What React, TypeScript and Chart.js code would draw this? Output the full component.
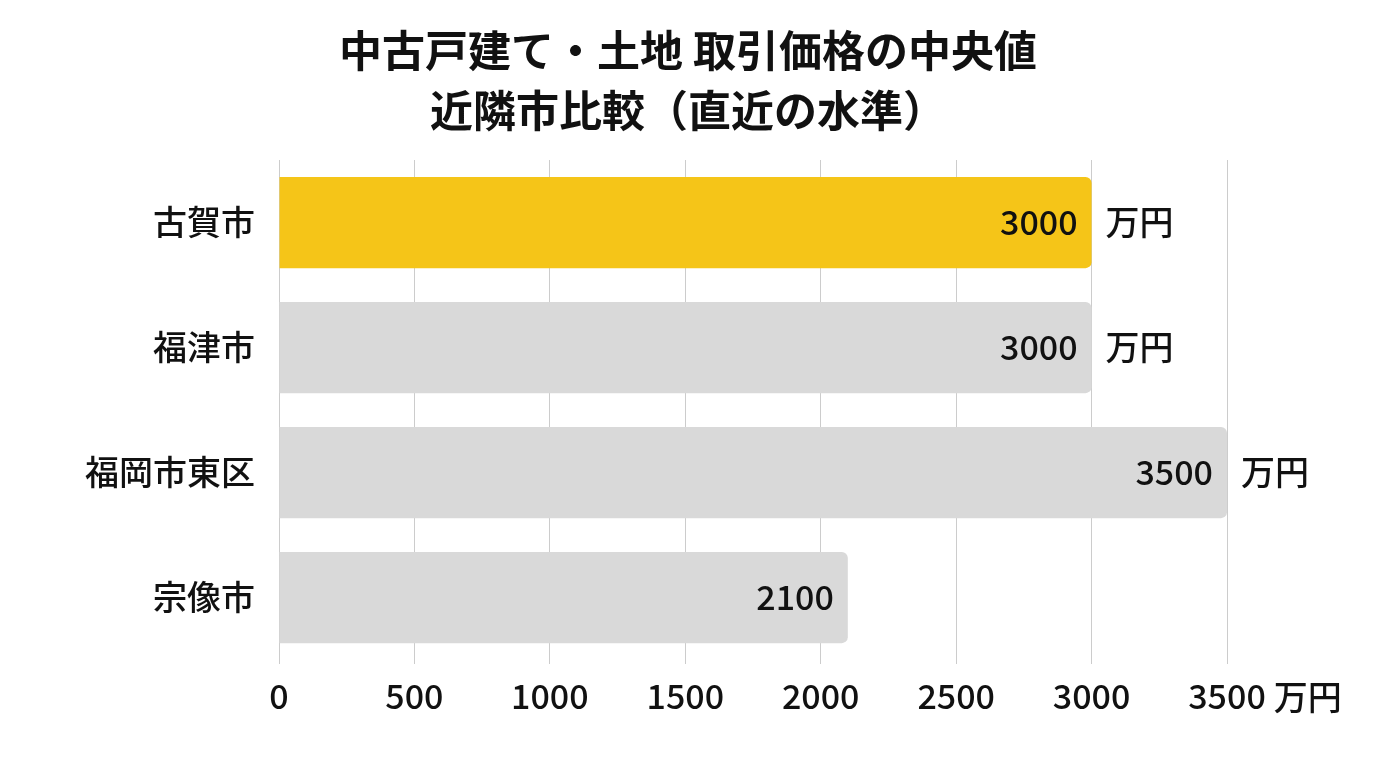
import React, { useEffect, useRef } from "react";
import { Chart, registerables } from "chart.js";

Chart.register(...registerables);

const categories = ["古賀市", "福津市", "福岡市東区", "宗像市"];
const values = [3000, 3000, 3500, 2100];
const unitLabels = ["万円", "万円", "万円", ""];
const barColors = ["#F5C518", "#D9D9D9", "#D9D9D9", "#D9D9D9"];
const xTicks = [0, 500, 1000, 1500, 2000, 2500, 3000, 3500];
const axisUnit = "万円";
const titleLines = ["中古戸建て・土地 取引価格の中央値", "近隣市比較（直近の水準）"];

const FONT = '"Noto Sans CJK JP", "Noto Sans", sans-serif';
const LABEL_FONT = `500 34px ${FONT}`;

const labelPlugin = {
  id: "valueLabels",
  afterDatasetsDraw(chart: any) {
    const ctx = chart.ctx;
    const meta = chart.getDatasetMeta(0);
    ctx.save();
    ctx.font = LABEL_FONT;
    ctx.fillStyle = "#111111";
    ctx.textBaseline = "middle";
    meta.data.forEach((bar: any, i: number) => {
      ctx.textAlign = "right";
      ctx.fillText(String(values[i]), bar.x - 14, bar.y);
      if (unitLabels[i]) {
        ctx.textAlign = "left";
        ctx.fillText(unitLabels[i], bar.x + 14, bar.y);
      }
    });
    const xs = chart.scales.x;
    const lastVal = xTicks[xTicks.length - 1];
    const px = xs.getPixelForValue(lastVal);
    const w = ctx.measureText(String(lastVal)).width;
    ctx.textAlign = "left";
    ctx.fillText(axisUnit, px + w / 2 + 8, chart.chartArea.bottom + 37);
    // title centered on the canvas
    ctx.font = `bold 43px ${FONT}`;
    ctx.textAlign = "center";
    ctx.fillStyle = "#111111";
    titleLines.forEach((line, i) => {
      ctx.fillText(line, chart.width / 2, 43 + i * 60);
    });
    ctx.restore();
  },
};

export default function App() {
  const ref = useRef<HTMLCanvasElement | null>(null);
  useEffect(() => {
    if (!ref.current) return;
    const chart = new Chart(ref.current, {
      type: "bar",
      data: {
        labels: categories,
        datasets: [
          {
            data: values,
            backgroundColor: barColors,
            borderRadius: 6,
            borderSkipped: "start",
            barPercentage: 0.73,
            categoryPercentage: 1,
          },
        ],
      },
      options: {
        indexAxis: "y",
        animation: false,
        responsive: false,
        maintainAspectRatio: false,
        layout: { padding: { top: 152, right: 141, bottom: 0, left: 0 } },
        plugins: {
          legend: { display: false },
          tooltip: { enabled: false },
          title: { display: false },
        },
        scales: {
          x: {
            min: 0,
            max: 3500,
            afterFit(scale: any) {
              scale.height = 100;
            },
            afterBuildTicks(scale: any) {
              scale.ticks = xTicks.map((v) => ({ value: v }));
            },
            border: { display: false },
            grid: { color: "#CCCCCC", lineWidth: 1, drawTicks: true, tickLength: 4 },
            ticks: {
              color: "#111111",
              font: { family: FONT, size: 34, weight: "500" },
              padding: 12,
              maxRotation: 0,
              autoSkip: false,
              callback: (v: any) => String(v),
            },
          },
          y: {
            afterFit(scale: any) {
              scale.width = 271;
            },
            border: { display: false },
            grid: { display: false, drawTicks: false },
            ticks: {
              color: "#111111",
              font: { family: FONT, size: 34, weight: "500" },
              padding: 24,
            },
          },
        },
      },
      plugins: [labelPlugin],
    });
    return () => chart.destroy();
  }, []);
  return (
    <div style={{ width: 1360, height: 752 }}>
      <canvas ref={ref} width={1360} height={752} style={{ width: 1360, height: 752, display: "block" }} />
    </div>
  );
}
